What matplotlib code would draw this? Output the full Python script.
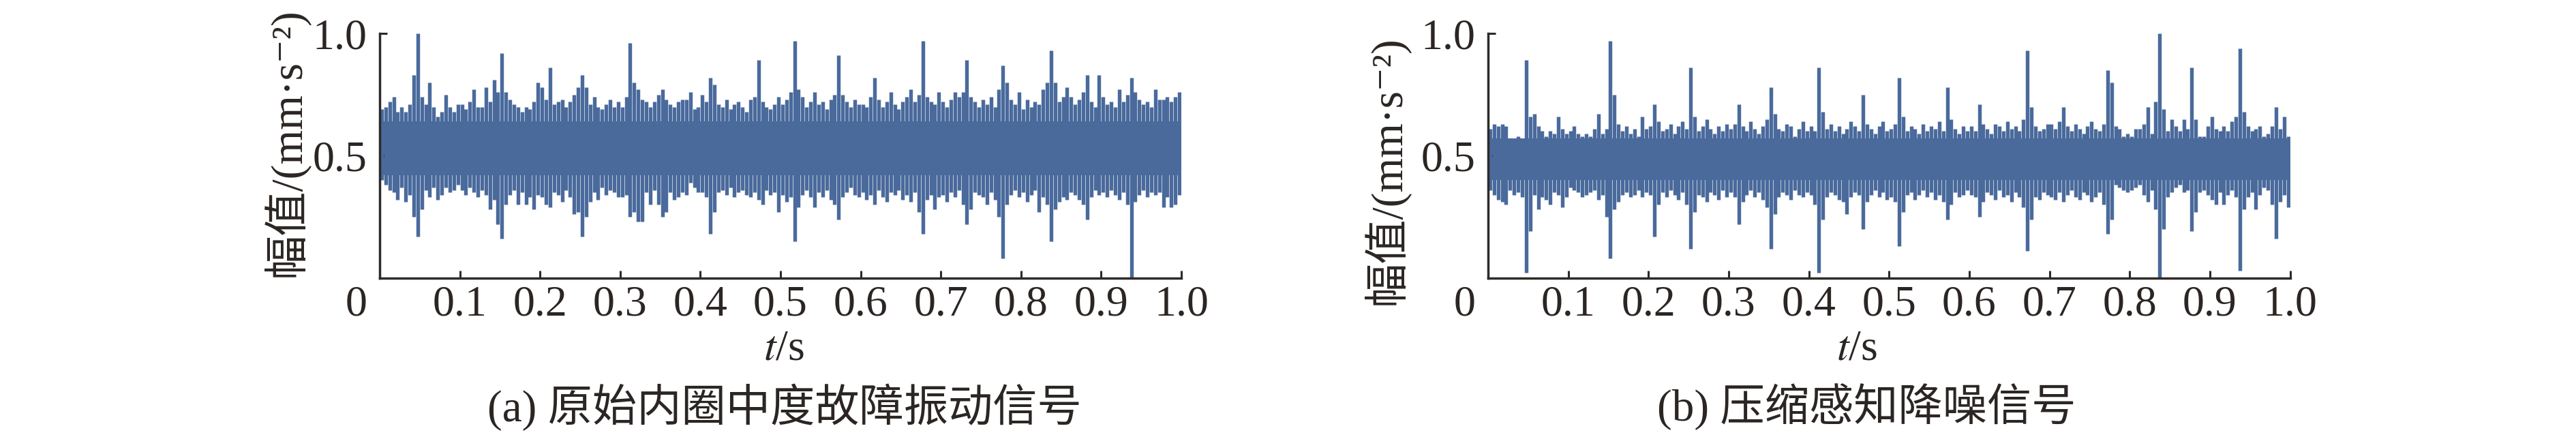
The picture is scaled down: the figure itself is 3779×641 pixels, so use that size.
import numpy as np
import matplotlib.pyplot as plt

plt.rcParams['font.family'] = ['Liberation Serif', 'Noto Sans CJK SC', 'DejaVu Serif']
plt.rcParams['mathtext.fontset'] = 'stix'

# envelope of the signal, one column every 5 ms, values in 1/100 of the axis unit
step = 0.005

hi_a = [69, 70, 72, 74, 68, 70, 68, 71, 83, 100, 74, 71, 80, 70, 66, 68, 75, 70, 68, 71,
        71, 69, 72, 77, 70, 70, 78, 72, 81, 76, 92, 76, 73, 71, 70, 68, 70, 69, 72, 80,
        78, 73, 86, 71, 72, 73, 70, 72, 75, 78, 83, 78, 71, 74, 70, 69, 71, 73, 70, 72,
        70, 74, 96, 80, 77, 73, 72, 70, 72, 75, 77, 73, 71, 70, 72, 73, 73, 76, 69, 70,
        75, 72, 82, 79, 71, 70, 73, 69, 71, 72, 70, 68, 73, 74, 89, 72, 70, 69, 71, 74,
        71, 73, 76, 97, 77, 74, 70, 72, 76, 71, 72, 69, 73, 75, 91, 75, 72, 70, 73, 71,
        71, 70, 74, 82, 73, 70, 72, 76, 71, 69, 72, 74, 77, 72, 75, 97, 74, 72, 71, 76,
        72, 70, 73, 76, 74, 76, 89, 74, 72, 70, 73, 71, 74, 70, 77, 87, 80, 73, 71, 76,
        69, 73, 70, 72, 71, 77, 80, 93, 80, 72, 74, 78, 74, 71, 73, 76, 83, 72, 70, 83,
        74, 71, 72, 70, 77, 72, 75, 82, 76, 73, 71, 72, 70, 77, 73, 73, 74, 72, 74, 76]
lo_a = [40, 38, 36, 35, 32, 37, 31, 34, 25, 17, 28, 36, 33, 37, 32, 34, 37, 35, 36, 38,
        36, 34, 37, 35, 33, 36, 34, 28, 32, 22, 16, 30, 34, 36, 30, 35, 30, 33, 28, 34,
        33, 30, 29, 35, 34, 31, 36, 33, 26, 27, 17, 25, 31, 35, 32, 37, 34, 36, 35, 33,
        33, 34, 25, 27, 23, 23, 35, 30, 36, 30, 25, 27, 35, 32, 33, 35, 34, 39, 37, 35,
        35, 33, 18, 27, 35, 36, 34, 37, 33, 35, 36, 34, 33, 35, 32, 30, 36, 34, 35, 27,
        34, 31, 33, 15, 29, 34, 36, 33, 29, 35, 33, 36, 32, 30, 24, 33, 35, 37, 34, 33,
        35, 32, 34, 30, 36, 33, 31, 35, 34, 36, 32, 34, 31, 35, 27, 18, 32, 34, 28, 33,
        34, 31, 35, 33, 36, 30, 22, 28, 35, 34, 33, 30, 35, 32, 25, 8, 30, 34, 36, 33,
        35, 31, 34, 36, 27, 33, 30, 15, 28, 31, 33, 32, 35, 34, 32, 30, 24, 33, 36, 34,
        35, 33, 36, 34, 32, 35, 30, 0, 31, 34, 36, 33, 35, 34, 35, 29, 33, 29, 30, 34]

hi_b = [61, 63, 62, 63, 62, 57, 56, 58, 57, 89, 66, 67, 62, 60, 58, 60, 59, 66, 61, 59,
        60, 62, 59, 58, 59, 58, 61, 67, 59, 61, 97, 75, 63, 60, 62, 59, 61, 58, 66, 61,
        62, 71, 64, 60, 61, 63, 59, 62, 64, 61, 86, 66, 60, 62, 65, 61, 59, 62, 60, 63,
        61, 63, 71, 62, 60, 64, 61, 59, 62, 65, 78, 67, 61, 60, 63, 62, 58, 61, 64, 60,
        62, 60, 86, 68, 61, 63, 60, 62, 59, 61, 64, 62, 60, 75, 63, 61, 59, 62, 64, 60,
        61, 63, 82, 66, 60, 62, 61, 59, 63, 60, 62, 61, 64, 60, 78, 65, 61, 59, 62, 60,
        62, 60, 71, 63, 61, 59, 63, 62, 60, 64, 61, 62, 60, 65, 93, 70, 62, 60, 61, 63,
        63, 61, 64, 70, 62, 60, 63, 61, 59, 62, 64, 61, 60, 63, 85, 80, 62, 61, 58, 59,
        58, 61, 61, 63, 70, 59, 72, 100, 69, 60, 65, 62, 60, 65, 61, 86, 65, 58, 58, 62,
        66, 61, 60, 62, 60, 64, 66, 94, 68, 62, 60, 61, 62, 58, 59, 62, 70, 61, 66, 58]
lo_b = [36, 34, 32, 31, 30, 36, 34, 35, 33, 2, 19, 34, 28, 33, 32, 30, 35, 34, 29, 33,
        37, 36, 35, 33, 34, 35, 36, 32, 34, 25, 8, 28, 31, 34, 35, 33, 34, 36, 33, 35,
        34, 17, 30, 35, 33, 36, 34, 32, 35, 30, 12, 27, 34, 33, 31, 35, 34, 32, 36, 33,
        35, 33, 22, 31, 34, 36, 33, 35, 32, 29, 12, 26, 33, 35, 34, 32, 36, 34, 33, 35,
        34, 30, 2, 24, 33, 35, 34, 32, 31, 26, 33, 35, 34, 20, 31, 34, 36, 33, 35, 32,
        33, 31, 13, 27, 34, 35, 32, 34, 36, 33, 35, 32, 34, 31, 24, 30, 35, 33, 34, 36,
        34, 33, 25, 31, 35, 34, 32, 36, 33, 34, 31, 35, 33, 29, 11, 24, 33, 32, 35, 34,
        33, 32, 35, 31, 34, 36, 33, 32, 35, 34, 31, 33, 35, 30, 18, 24, 38, 37, 36, 35,
        36, 37, 38, 34, 31, 36, 28, 0, 20, 33, 35, 37, 38, 35, 36, 19, 27, 35, 36, 34,
        32, 30, 35, 30, 34, 36, 33, 3, 28, 33, 35, 28, 34, 37, 36, 30, 16, 31, 34, 29]

# solid middle of the band (lo, hi)
core_a = (0.42, 0.64)
core_b = (0.40, 0.57)

x_ticks = [0.1, 0.2, 0.3, 0.4, 0.5, 0.6, 0.7, 0.8, 0.9, 1.0]
x_labels = ['0.1', '0.2', '0.3', '0.4', '0.5', '0.6', '0.7', '0.8', '0.9', '1.0']
y_ticks = [0.5, 1.0]
y_labels = ['0.5', '1.0']

ylab = '幅值/(mm·s⁻²)'
captions = ['(a) 原始内圈中度故障振动信号', '(b) 压缩感知降噪信号']

blue = '#4a6a9c'
axc = '#2e2a27'
txtc = '#2b2623'

fig = plt.figure(figsize=(37.8, 6.41), dpi=100)
ax1 = fig.add_axes([557 / 3780, 233.4 / 641, 1176 / 3780, 358.6 / 641])
ax2 = fig.add_axes([2183 / 3780, 233.4 / 641, 1176.5 / 3780, 358.6 / 641])


def draw_panel(ax, hi, lo, core):
    t = (np.arange(len(hi)) + 0.5) * step
    ax.fill_between([0, 1], core[0], core[1], color=blue, lw=0)
    ax.vlines(t, np.array(lo) / 100, np.array(hi) / 100, color=blue, lw=3.9)
    ax.set_xlim(0, 1)
    ax.set_ylim(0, 1)
    for s in ['top', 'right']:
        ax.spines[s].set_visible(False)
    for s in ['left', 'bottom']:
        ax.spines[s].set_linewidth(2.5)
        ax.spines[s].set_color(axc)
    ax.set_xticks(x_ticks)
    ax.set_xticklabels(x_labels)
    ax.set_yticks(y_ticks)
    ax.set_yticklabels(y_labels)
    ax.tick_params(direction='in', length=8, width=2.2, color=axc,
                   labelsize=46, labelcolor=txtc)
    ax.tick_params(axis='y', pad=13.5)
    ax.tick_params(axis='x', pad=8)
    ax.annotate('0', xy=(0, 0), xycoords='axes fraction', xytext=(-13.5, -8),
                textcoords='offset points', ha='right', va='top',
                fontsize=46, color=txtc)
    ax.set_ylabel(ylab, fontsize=47, color=txtc)


draw_panel(ax1, hi_a, lo_a, core_a)
draw_panel(ax2, hi_b, lo_b, core_b)
ax1.yaxis.set_label_coords(-0.088, 0.555)
ax2.yaxis.set_label_coords(-0.098, 0.44)

fig.text(1150 / 3780, 1 - 513 / 641, '$t$/s', ha='center', va='center',
         fontsize=46, color=txtc)
fig.text(2724 / 3780, 1 - 513 / 641, '$t$/s', ha='center', va='center',
         fontsize=46, color=txtc)
fig.text(1151 / 3780, 1 - 597 / 641, captions[0], ha='center', va='center',
         fontsize=47, color=txtc)
fig.text(2738 / 3780, 1 - 597 / 641, captions[1], ha='center', va='center',
         fontsize=47, color=txtc)

fig.savefig('out.png', dpi=100)
